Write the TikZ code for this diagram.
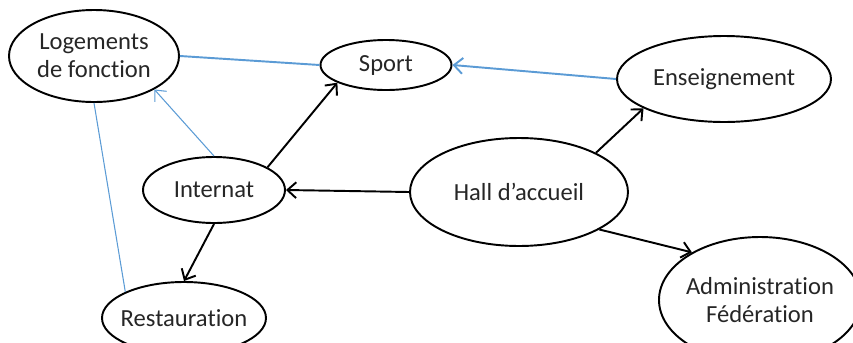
\documentclass[tikz,border=0pt]{standalone}
\usepackage{fontspec}
\setmainfont[Ligatures=NoCommon]{Carlito}
\usetikzlibrary{shapes.geometric,arrows.meta}
\definecolor{linkblue}{RGB}{91,155,213}
\definecolor{txt}{RGB}{38,38,38}
\tikzset{
  place/.style={ellipse, draw=black, line width=1.1pt, inner sep=0pt,
    text=txt, align=center, font=\fontsize{14}{16}\selectfont},
  size/.style 2 args={minimum width=#1*0.02cm, minimum height=#2*0.02cm},
  flow/.style={draw=black, line width=1.1pt,
    -{Straight Barb[length=5pt,width=9pt,line width=1.1pt]}},
  bluelink/.style={draw=linkblue, line width=1.1pt},
  bluethin/.style={draw=linkblue, line width=0.6pt},
  bluetip/.style={-{Straight Barb[length=5pt,width=9pt]}}
}
\begin{document}
\begin{tikzpicture}[x=0.02cm, y=-0.02cm]
  \useasboundingbox (0,0) rectangle (853,342);
  \clip (0,0) rectangle (853,342);

  % places
  \node[place, size={170}{92}] (loge) at (94,56) {Logements\\de fonction};
  \node[place, size={131}{50}] (sport) at (386,65) {Sport};
  \node[place, size={214}{86}] (ens) at (724,79) {Enseignement};
  \node[place, size={218}{108}] (hall) at (519,192) {Hall d’accueil};
  \node[place, size={142}{66}] (intern) at (214,190) {Internat};
  \node[place, size={164}{72}, inner xsep=-10pt] (resto) at (184,318) {Restauration};
  \node[place, size={202}{126}, inner xsep=-4pt] (admin) at (760,300) {Administration\\Fédération};

  % blue links
  \draw[bluelink] (loge.east) -- (sport.west);
  \draw[bluelink, bluetip] (ens.west) -- (sport.east);
  \draw[bluethin, bluetip] (intern.north) -- (loge.331);
  \draw[bluethin] (loge.south) -- (resto.156);

  % black flows
  \draw[flow] (intern.23) -- (sport.200);
  \draw[flow] (hall.west) -- (intern.east);
  \draw[flow] (hall.27) -- (ens.200);
  \draw[flow] (hall.335) -- (admin.145);
  \draw[flow] (intern.south) -- (resto.north);
\end{tikzpicture}
\end{document}
